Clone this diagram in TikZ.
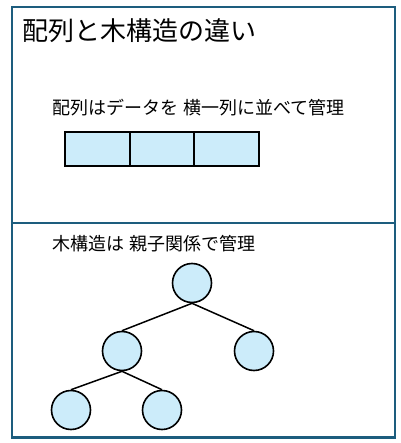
\documentclass[tikz,border=0pt]{standalone}
\usepackage{fontspec}
\setmainfont{Noto Sans CJK JP}
\definecolor{frameblue}{HTML}{1D5D7E}
\definecolor{cellfill}{HTML}{CCECFA}
\begin{document}
\begin{tikzpicture}[x=1pt,y=-1pt,
  frame/.style={draw=frameblue,line width=2.2pt},
  cell/.style={draw=black,fill=cellfill,line width=1.8pt,minimum width=64.7pt,minimum height=34pt,inner sep=0pt},
  tnode/.style={circle,draw=black,fill=cellfill,line width=1.6pt,minimum size=39pt,inner sep=0pt},
  edge/.style={draw=black,line width=1.5pt},
  lbl/.style={anchor=west,inner sep=0pt,font=\fontsize{18pt}{20pt}\selectfont}
]
\useasboundingbox (0,0) rectangle (400,443);
\draw[frame] (12,7) rectangle (395,437.5);
\draw[frame] (12,223) -- (395,223);
\node[anchor=west,inner sep=0pt,font=\fontsize{26pt}{30pt}\selectfont] (title) at (22,31) {配列と木構造の違い};
\node[lbl] (sub1) at (52,108) {配列はデータを\hspace{0.3em}横一列に並べて管理};
\node[cell] (c1) at (97.3,148.7) {};
\node[cell] (c2) at (162,148.7) {};
\node[cell] (c3) at (226.7,148.7) {};
\node[lbl] (sub2) at (52,243.5) {木構造は\hspace{0.3em}親子関係で管理};
\node[tnode] (root) at (192,283) {};
\node[tnode] (l) at (122,351) {};
\node[tnode] (r) at (254,351) {};
\node[tnode] (ll) at (71,410) {};
\node[tnode] (lr) at (162,410) {};
\draw[edge] (root.south) -- (l.north);
\draw[edge] (root.south) -- (r.north);
\draw[edge] (l.south) -- (ll.north);
\draw[edge] (l.south) -- (lr.north);
\end{tikzpicture}
\end{document}
